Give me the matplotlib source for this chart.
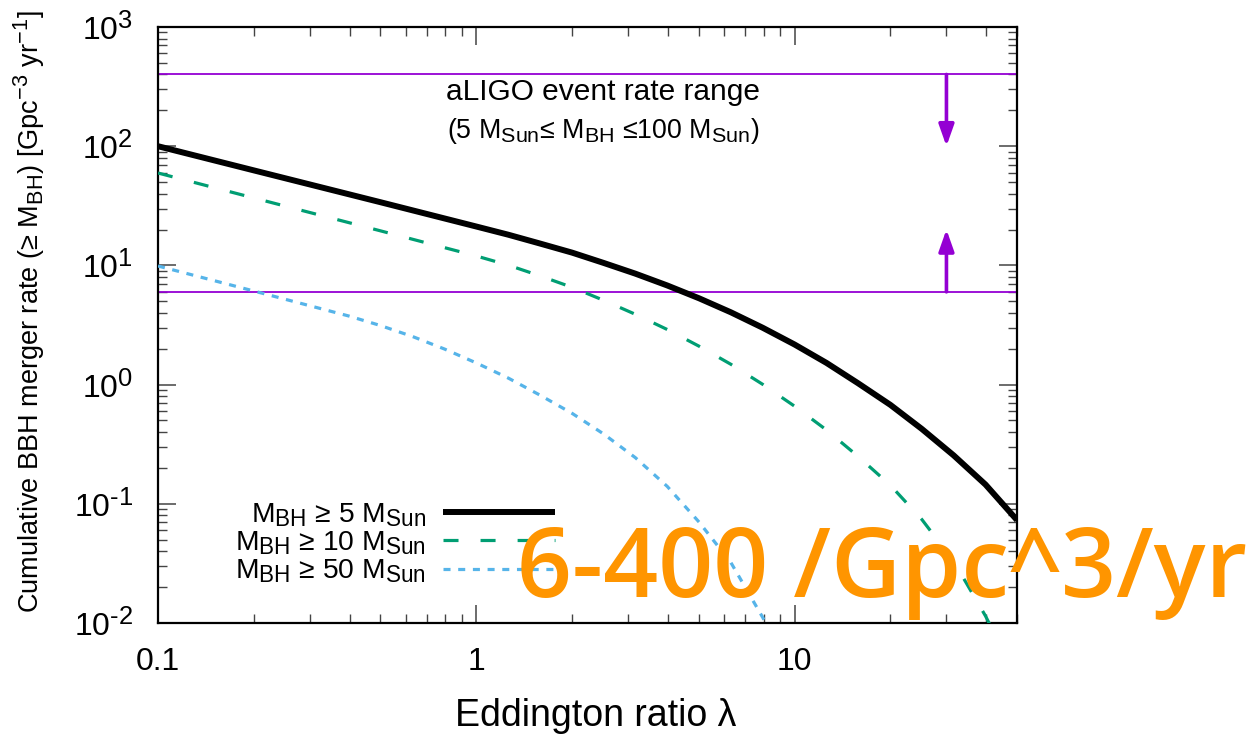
import matplotlib
matplotlib.use('Agg')
import matplotlib.pyplot as plt
import matplotlib._mathtext as _mt
from matplotlib.ticker import FixedLocator, FixedFormatter, LogLocator, NullFormatter

_mt.SHRINK_FACTOR = 0.8

plt.rcParams['font.family'] = ['Liberation Sans', 'DejaVu Sans']
plt.rcParams['mathtext.fontset'] = 'custom'
plt.rcParams['mathtext.rm'] = 'Liberation Sans'
plt.rcParams['mathtext.it'] = 'Liberation Sans:italic'
plt.rcParams['mathtext.bf'] = 'Liberation Sans:bold'
plt.rcParams['mathtext.default'] = 'regular'

# ---------------- data ----------------
lam_5 = [0.1, 0.2, 0.5, 1, 1.26, 1.58, 2, 2.51, 3.16, 3.98, 5.01, 6.31, 7.94,
         10, 12.6, 15.8, 20, 25.1, 31.6, 39.8, 50]
rate_5 = [100, 62.7, 33.9, 21.2, 18.1, 15.3, 12.8, 10.5, 8.53, 6.79, 5.30, 4.04, 3.00,
          2.17, 1.52, 1.03, 0.676, 0.425, 0.255, 0.145, 0.073]

lam_10 = [0.1, 0.2, 0.5, 1, 1.26, 1.58, 2, 2.51, 3.16, 3.98, 5.01, 6.31, 7.94,
          10, 12.6, 15.8, 20, 25.1, 31.6, 39.8, 44.7]
rate_10 = [59.6, 36.8, 19.5, 12.0, 10.05, 8.2, 6.55, 5.1, 3.89, 2.90, 2.10, 1.48, 1.005,
           0.659, 0.416, 0.251, 0.143, 0.074, 0.033, 0.01145, 0.00615]

lam_50 = [0.1, 0.2, 0.398, 0.5, 0.631, 0.794, 1, 1.26, 1.58, 2, 2.51, 3.16, 3.98,
          5.01, 6.31, 7.94, 8.91]
rate_50 = [9.89, 6.1, 3.76, 3.13, 2.53, 1.99, 1.52, 1.135, 0.82, 0.574, 0.386, 0.244, 0.140,
           0.0703, 0.0321, 0.01114, 0.00626]

series_labels = [r'M$_{BH}$ ≥ 5 M$_{Sun}$',
                 r'M$_{BH}$ ≥ 10 M$_{Sun}$',
                 r'M$_{BH}$ ≥ 50 M$_{Sun}$']

aligo_low = 6
aligo_high = 400
arrow_x = 30
arrow_down_to = 100
arrow_up_to = 20

x_ticks = [0.1, 1, 10]
x_ticklabels = ['0.1', '1', '10']
y_ticks = [1e-2, 1e-1, 1, 10, 100, 1000]
y_ticklabels = [r'$10^{\text{-}2}$', r'$10^{\text{-}1}$', r'$10^{0}$', r'$10^{1}$', r'$10^{2}$', r'$10^{3}$']
x_limits = (0.1, 50)
y_limits = (0.01, 1000)

# ---------------- figure ----------------
purple = '#9400D3'
fig = plt.figure(figsize=(12.51, 7.38), dpi=100)
ax = fig.add_axes([0.1263, 0.1558, 0.6867, 0.8076])
ax.set_xscale('log')
ax.set_yscale('log')
ax.set_xlim(*x_limits)
ax.set_ylim(*y_limits)

ax.axhline(aligo_high, color=purple, lw=1.3, zorder=2)
ax.axhline(aligo_low, color=purple, lw=1.3, zorder=2)

arrow_style = '-|>,head_length=0.65,head_width=0.23'
ax.annotate('', xy=(arrow_x, arrow_down_to), xytext=(arrow_x, aligo_high),
            arrowprops=dict(arrowstyle=arrow_style, color=purple, lw=2.6,
                            shrinkA=0, shrinkB=0, mutation_scale=20))
ax.annotate('', xy=(arrow_x, arrow_up_to), xytext=(arrow_x, aligo_low),
            arrowprops=dict(arrowstyle=arrow_style, color=purple, lw=2.6,
                            shrinkA=0, shrinkB=0, mutation_scale=20))

ax.plot(lam_5, rate_5, color='black', lw=4.3, solid_capstyle='butt',
        solid_joinstyle='round', label=series_labels[0], zorder=4)
ax.plot(lam_10, rate_10, color='#009E73', lw=2.3, dashes=(4.7, 6.9),
        label=series_labels[1], zorder=4)
ax.plot(lam_50, rate_50, color='#56B4E9', lw=2.3, dashes=(2.2, 2.4),
        label=series_labels[2], zorder=4)

ax.text(0.518, 0.891, 'aLIGO event rate range', transform=ax.transAxes,
        ha='center', va='center', fontsize=21.5)
ax.text(0.518, 0.825, r'(5 M$_{Sun}$≤ M$_{BH}$ ≤100 M$_{Sun}$)', transform=ax.transAxes,
        ha='center', va='center', fontsize=19.3)

leg = ax.legend(loc='lower left', bbox_to_anchor=(0.0896, 0.064), frameon=False,
                markerfirst=False, fontsize=20.3, handlelength=3.95, handletextpad=0.62,
                labelspacing=0.02, borderpad=0, borderaxespad=0)

ax.xaxis.set_major_locator(FixedLocator(x_ticks))
ax.xaxis.set_major_formatter(FixedFormatter(x_ticklabels))
ax.xaxis.set_minor_locator(LogLocator(base=10, subs=range(2, 10), numticks=20))
ax.xaxis.set_minor_formatter(NullFormatter())
ax.yaxis.set_major_locator(FixedLocator(y_ticks))
ax.yaxis.set_major_formatter(FixedFormatter(y_ticklabels))
ax.yaxis.set_minor_locator(LogLocator(base=10, subs=range(2, 10), numticks=20))
ax.yaxis.set_minor_formatter(NullFormatter())

ax.tick_params(which='both', direction='in', top=True, right=True, color='#444444')
ax.tick_params(which='major', length=13, width=1.1, labelsize=23)
ax.tick_params(which='minor', length=6.5, width=1.0)
ax.tick_params(axis='x', which='major', pad=17)
ax.tick_params(axis='y', which='major', pad=18)
for sp in ax.spines.values():
    sp.set_linewidth(1.6)

ax.set_xlabel('Eddington ratio λ', fontsize=27)
ax.xaxis.set_label_coords(0.509, -0.125)
ax.set_ylabel(r'Cumulative BBH merger rate (≥ M$_{BH}$) [Gpc$^{-3}$ yr$^{-1}$]', fontsize=19.5)
ax.yaxis.set_label_coords(-0.129, 0.522)

fig.text(0.413, 0.1915, '6-400 /Gpc^3/yr', color='#FF9500', fontsize=69.5,
         family=['Open Sans', 'DejaVu Sans'], fontweight='semibold', ha='left', va='baseline')

fig.savefig('out.png', dpi=100)
